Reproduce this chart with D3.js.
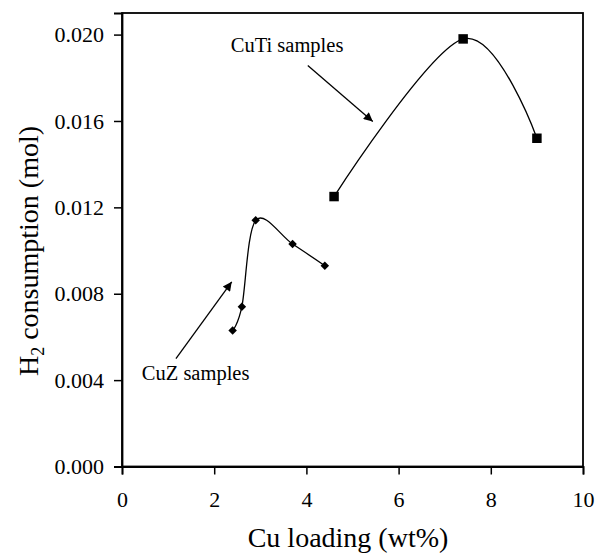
<!DOCTYPE html>
<html>
<head>
<meta charset="utf-8">
<script src="https://cdn.jsdelivr.net/npm/d3@7"></script>
<style>
  body { margin: 0; background: #fff; }
  text { font-family: "Liberation Serif", "Times New Roman", Tinos !important; }
</style>
</head>
<body>
<div id="chart"></div>
<script>
// Cu loading (wt%) vs H2 consumption (mol)
const cuTiLoading = [4.6, 7.4, 9.0];
const cuTiH2 = [0.0125, 0.0198, 0.0152];
const cuZLoading = [2.4, 2.6, 2.9, 3.7, 4.4];
const cuZH2 = [0.0063, 0.0074, 0.0114, 0.0103, 0.0093];

const xTicks = [0, 2, 4, 6, 8, 10];
const yTicks = [0, 0.004, 0.008, 0.012, 0.016, 0.020];

// annotation labels and arrows, in data units
const labels = [
    { text: "CuTi samples", x: 2.36, y: 0.0192, ax1: 4.03, ay1: 0.01857, ax2: 5.44, ay2: 0.01598 },
    { text: "CuZ samples", x: 0.43, y: 0.0040, ax1: 1.17, ay1: 0.0050, ax2: 2.38, ay2: 0.00855 }
];

const FONT = "Liberation Serif";
const width = 601, height = 560;
const margin = { top: 13, right: 18, bottom: 93.5, left: 122 };

const svg = d3.select("#chart").append("svg")
    .attr("width", width)
    .attr("height", height);

const x = d3.scaleLinear().domain([0, 10]).range([margin.left, width - margin.right]);
const y = d3.scaleLinear().domain([0, 0.021]).range([height - margin.bottom, margin.top]);

svg.append("defs").append("marker")
    .attr("id", "arrow")
    .attr("viewBox", "0 0 10 10")
    .attr("refX", 10).attr("refY", 5)
    .attr("markerWidth", 11).attr("markerHeight", 9)
    .attr("markerUnits", "userSpaceOnUse")
    .attr("orient", "auto")
    .append("path")
    .attr("d", "M0,0 L10,5 L0,10 Z")
    .attr("fill", "#000");

// frame
svg.append("rect")
    .attr("x", x(0)).attr("y", margin.top)
    .attr("width", x(10) - x(0))
    .attr("height", y(0) - margin.top)
    .attr("fill", "none")
    .attr("stroke", "#000")
    .attr("stroke-width", 1.8);

const xAxis = svg.append("g")
    .attr("transform", `translate(0,${y(0)})`)
    .call(d3.axisBottom(x).tickValues(xTicks).tickSize(8).tickPadding(17).tickFormat(d3.format("d")));
const yAxis = svg.append("g")
    .attr("transform", `translate(${x(0)},0)`)
    .call(d3.axisLeft(y).tickValues(yTicks).tickSize(8).tickPadding(10).tickFormat(d3.format(".3f")));

[xAxis, yAxis].forEach(g => {
    g.attr("font-family", FONT).attr("font-size", 22);
    g.select(".domain").attr("stroke-width", 1.8);
    g.selectAll(".tick line").attr("stroke-width", 1.5);
});

// axis titles
svg.append("text")
    .attr("x", 348).attr("y", 547)
    .attr("text-anchor", "middle")
    .attr("font-family", FONT).attr("font-size", 28)
    .text("Cu loading (wt%)");

const yTitle = svg.append("text")
    .attr("transform", "translate(38,251) rotate(-90)")
    .attr("text-anchor", "middle")
    .attr("font-family", FONT).attr("font-size", 28);
yTitle.append("tspan").text("H");
yTitle.append("tspan").attr("dy", 6).attr("font-size", 18).text("2");
yTitle.append("tspan").attr("dy", -6).text(" consumption (mol)");

// smoothed lines
const line = d3.line()
    .x(d => x(d[0]))
    .y(d => y(d[1]))
    .curve(d3.curveCardinal.tension(0));

const cuTi = d3.zip(cuTiLoading, cuTiH2);
const cuZ = d3.zip(cuZLoading, cuZH2);

svg.append("path").datum(cuTi)
    .attr("d", line).attr("fill", "none").attr("stroke", "#000").attr("stroke-width", 1.3);
svg.append("path").datum(cuZ)
    .attr("d", line).attr("fill", "none").attr("stroke", "#000").attr("stroke-width", 1.3);

svg.append("g").selectAll("path")
    .data(cuTi)
    .join("path")
    .attr("transform", d => `translate(${x(d[0])},${y(d[1])})`)
    .attr("d", d3.symbol(d3.symbolSquare, 90))
    .attr("fill", "#000");

svg.append("g").selectAll("path")
    .data(cuZ)
    .join("path")
    .attr("transform", d => `translate(${x(d[0])},${y(d[1])}) rotate(45)`)
    .attr("d", d3.symbol(d3.symbolSquare, 36))
    .attr("fill", "#000");

// annotations
labels.forEach(l => {
    svg.append("text")
        .attr("x", x(l.x)).attr("y", y(l.y))
        .attr("font-family", FONT).attr("font-size", 20.5)
        .text(l.text);
    svg.append("line")
        .attr("x1", x(l.ax1)).attr("y1", y(l.ay1))
        .attr("x2", x(l.ax2)).attr("y2", y(l.ay2))
        .attr("stroke", "#000").attr("stroke-width", 1.3)
        .attr("marker-end", "url(#arrow)");
});
</script>
</body>
</html>
